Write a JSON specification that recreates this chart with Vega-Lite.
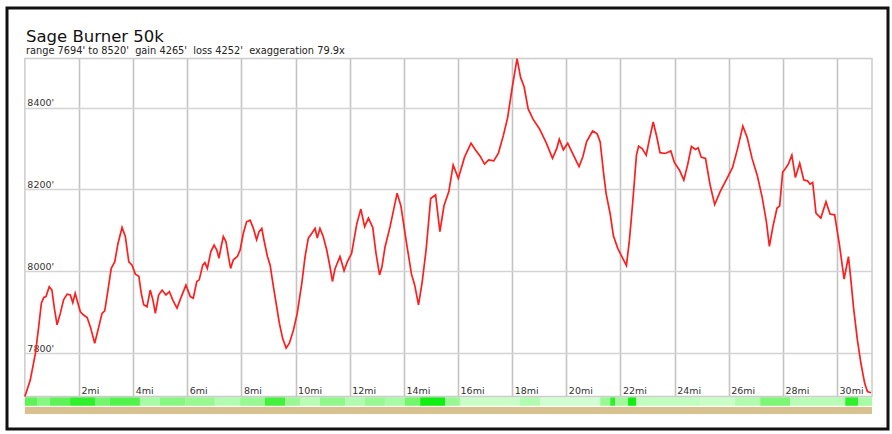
{
  "$schema": "https://vega.github.io/schema/vega-lite/v6.json",
  "width": 881,
  "height": 421,
  "autosize": {"type": "none"},
  "padding": {"left": 7, "top": 8, "right": 4, "bottom": 5},
  "background": "white",
  "title": {
    "text": "Sage Burner 50k",
    "subtitle": "range 7694' to 8520'\u00a0 gain 4265'\u00a0 loss 4252'\u00a0 exaggeration 79.9x",
    "anchor": "start",
    "frame": "group",
    "offset": -48,
    "dx": 19,
    "font": "DejaVu Sans",
    "fontSize": 16.5,
    "fontWeight": "normal",
    "color": "#111111",
    "subtitleFont": "DejaVu Sans",
    "subtitleFontSize": 9.8,
    "subtitleColor": "#222222",
    "subtitlePadding": 0.6
  },
  "config": {
    "view": {"stroke": "#111111", "strokeWidth": 3},
    "font": "DejaVu Sans"
  },
  "resolve": {"axis": {"x": "independent", "y": "independent"}},
  "datasets": {
    "profile": [
      {"mi": 0.00, "ft": 7694}, {"mi": 0.20, "ft": 7734}, {"mi": 0.39, "ft": 7799}, {"mi": 0.51, "ft": 7864},
      {"mi": 0.61, "ft": 7922}, {"mi": 0.70, "ft": 7936}, {"mi": 0.78, "ft": 7938}, {"mi": 0.90, "ft": 7962},
      {"mi": 1.00, "ft": 7954}, {"mi": 1.09, "ft": 7909}, {"mi": 1.19, "ft": 7869}, {"mi": 1.31, "ft": 7897},
      {"mi": 1.43, "ft": 7930}, {"mi": 1.56, "ft": 7944}, {"mi": 1.68, "ft": 7942}, {"mi": 1.77, "ft": 7923},
      {"mi": 1.86, "ft": 7946}, {"mi": 1.96, "ft": 7922}, {"mi": 2.05, "ft": 7901}, {"mi": 2.17, "ft": 7893},
      {"mi": 2.30, "ft": 7887}, {"mi": 2.42, "ft": 7864}, {"mi": 2.58, "ft": 7824}, {"mi": 2.73, "ft": 7864},
      {"mi": 2.85, "ft": 7897}, {"mi": 2.95, "ft": 7903}, {"mi": 3.07, "ft": 7954}, {"mi": 3.19, "ft": 8007},
      {"mi": 3.32, "ft": 8023}, {"mi": 3.44, "ft": 8068}, {"mi": 3.59, "ft": 8107}, {"mi": 3.71, "ft": 8085},
      {"mi": 3.84, "ft": 8023}, {"mi": 3.96, "ft": 8015}, {"mi": 4.08, "ft": 7993}, {"mi": 4.21, "ft": 7988},
      {"mi": 4.30, "ft": 7946}, {"mi": 4.39, "ft": 7918}, {"mi": 4.51, "ft": 7913}, {"mi": 4.63, "ft": 7954},
      {"mi": 4.73, "ft": 7930}, {"mi": 4.82, "ft": 7897}, {"mi": 4.94, "ft": 7942}, {"mi": 5.07, "ft": 7954},
      {"mi": 5.21, "ft": 7942}, {"mi": 5.34, "ft": 7950}, {"mi": 5.46, "ft": 7930}, {"mi": 5.62, "ft": 7910},
      {"mi": 5.78, "ft": 7938}, {"mi": 5.95, "ft": 7966}, {"mi": 6.11, "ft": 7938}, {"mi": 6.22, "ft": 7934},
      {"mi": 6.35, "ft": 7975}, {"mi": 6.44, "ft": 7979}, {"mi": 6.57, "ft": 8015}, {"mi": 6.65, "ft": 8021},
      {"mi": 6.74, "ft": 8007}, {"mi": 6.87, "ft": 8048}, {"mi": 6.99, "ft": 8064}, {"mi": 7.09, "ft": 8052},
      {"mi": 7.17, "ft": 8032}, {"mi": 7.25, "ft": 8060}, {"mi": 7.33, "ft": 8085}, {"mi": 7.43, "ft": 8072},
      {"mi": 7.52, "ft": 8036}, {"mi": 7.60, "ft": 8007}, {"mi": 7.70, "ft": 8028}, {"mi": 7.85, "ft": 8036},
      {"mi": 7.95, "ft": 8052}, {"mi": 8.07, "ft": 8093}, {"mi": 8.19, "ft": 8121}, {"mi": 8.32, "ft": 8125},
      {"mi": 8.44, "ft": 8105}, {"mi": 8.56, "ft": 8077}, {"mi": 8.65, "ft": 8097}, {"mi": 8.75, "ft": 8105},
      {"mi": 8.83, "ft": 8077}, {"mi": 8.96, "ft": 8036}, {"mi": 9.06, "ft": 8015}, {"mi": 9.16, "ft": 7971},
      {"mi": 9.28, "ft": 7922}, {"mi": 9.40, "ft": 7873}, {"mi": 9.52, "ft": 7836}, {"mi": 9.65, "ft": 7812},
      {"mi": 9.77, "ft": 7824}, {"mi": 9.92, "ft": 7856}, {"mi": 10.06, "ft": 7897}, {"mi": 10.23, "ft": 7971},
      {"mi": 10.35, "ft": 8036}, {"mi": 10.47, "ft": 8081}, {"mi": 10.60, "ft": 8093}, {"mi": 10.72, "ft": 8105},
      {"mi": 10.80, "ft": 8081}, {"mi": 10.90, "ft": 8105}, {"mi": 11.02, "ft": 8085}, {"mi": 11.15, "ft": 8052},
      {"mi": 11.27, "ft": 8011}, {"mi": 11.36, "ft": 7975}, {"mi": 11.46, "ft": 8007}, {"mi": 11.64, "ft": 8036},
      {"mi": 11.79, "ft": 8001}, {"mi": 11.91, "ft": 8023}, {"mi": 12.07, "ft": 8044}, {"mi": 12.26, "ft": 8116},
      {"mi": 12.41, "ft": 8152}, {"mi": 12.55, "ft": 8109}, {"mi": 12.69, "ft": 8130}, {"mi": 12.85, "ft": 8107},
      {"mi": 12.97, "ft": 8044}, {"mi": 13.10, "ft": 7991}, {"mi": 13.19, "ft": 8011}, {"mi": 13.30, "ft": 8058},
      {"mi": 13.49, "ft": 8109}, {"mi": 13.75, "ft": 8191}, {"mi": 13.89, "ft": 8160}, {"mi": 14.09, "ft": 8072},
      {"mi": 14.28, "ft": 7993}, {"mi": 14.40, "ft": 7966}, {"mi": 14.54, "ft": 7918}, {"mi": 14.67, "ft": 7971},
      {"mi": 14.82, "ft": 8052}, {"mi": 14.99, "ft": 8178}, {"mi": 15.17, "ft": 8187}, {"mi": 15.33, "ft": 8097},
      {"mi": 15.48, "ft": 8160}, {"mi": 15.66, "ft": 8195}, {"mi": 15.82, "ft": 8260}, {"mi": 16.01, "ft": 8227},
      {"mi": 16.24, "ft": 8279}, {"mi": 16.48, "ft": 8313}, {"mi": 16.64, "ft": 8297}, {"mi": 16.81, "ft": 8282},
      {"mi": 16.98, "ft": 8262}, {"mi": 17.13, "ft": 8272}, {"mi": 17.32, "ft": 8270}, {"mi": 17.49, "ft": 8289},
      {"mi": 17.67, "ft": 8331}, {"mi": 17.83, "ft": 8375}, {"mi": 18.01, "ft": 8453}, {"mi": 18.18, "ft": 8520},
      {"mi": 18.31, "ft": 8474}, {"mi": 18.44, "ft": 8451}, {"mi": 18.59, "ft": 8397}, {"mi": 18.77, "ft": 8372},
      {"mi": 19.01, "ft": 8348}, {"mi": 19.25, "ft": 8315}, {"mi": 19.49, "ft": 8276}, {"mi": 19.65, "ft": 8301},
      {"mi": 19.74, "ft": 8323}, {"mi": 19.89, "ft": 8297}, {"mi": 20.05, "ft": 8313}, {"mi": 20.24, "ft": 8287},
      {"mi": 20.47, "ft": 8256}, {"mi": 20.61, "ft": 8280}, {"mi": 20.75, "ft": 8317}, {"mi": 20.97, "ft": 8343},
      {"mi": 21.14, "ft": 8336}, {"mi": 21.25, "ft": 8316}, {"mi": 21.37, "ft": 8243}, {"mi": 21.47, "ft": 8190},
      {"mi": 21.62, "ft": 8140}, {"mi": 21.74, "ft": 8086}, {"mi": 21.90, "ft": 8056}, {"mi": 22.08, "ft": 8032},
      {"mi": 22.22, "ft": 8014}, {"mi": 22.33, "ft": 8076}, {"mi": 22.45, "ft": 8167}, {"mi": 22.59, "ft": 8284},
      {"mi": 22.67, "ft": 8306}, {"mi": 22.80, "ft": 8300}, {"mi": 22.95, "ft": 8284}, {"mi": 23.08, "ft": 8326},
      {"mi": 23.21, "ft": 8365}, {"mi": 23.34, "ft": 8329}, {"mi": 23.46, "ft": 8290}, {"mi": 23.65, "ft": 8288},
      {"mi": 23.86, "ft": 8294}, {"mi": 23.99, "ft": 8266}, {"mi": 24.18, "ft": 8247}, {"mi": 24.34, "ft": 8223},
      {"mi": 24.48, "ft": 8260}, {"mi": 24.62, "ft": 8305}, {"mi": 24.77, "ft": 8298}, {"mi": 24.87, "ft": 8302},
      {"mi": 24.98, "ft": 8279}, {"mi": 25.14, "ft": 8276}, {"mi": 25.31, "ft": 8211}, {"mi": 25.48, "ft": 8163},
      {"mi": 25.69, "ft": 8196}, {"mi": 25.94, "ft": 8228}, {"mi": 26.14, "ft": 8254}, {"mi": 26.33, "ft": 8301},
      {"mi": 26.52, "ft": 8355}, {"mi": 26.68, "ft": 8327}, {"mi": 26.86, "ft": 8276}, {"mi": 27.05, "ft": 8235},
      {"mi": 27.23, "ft": 8182}, {"mi": 27.39, "ft": 8121}, {"mi": 27.50, "ft": 8061}, {"mi": 27.63, "ft": 8109},
      {"mi": 27.78, "ft": 8154}, {"mi": 27.88, "ft": 8160}, {"mi": 27.99, "ft": 8242}, {"mi": 28.08, "ft": 8250},
      {"mi": 28.20, "ft": 8262}, {"mi": 28.33, "ft": 8284}, {"mi": 28.46, "ft": 8229}, {"mi": 28.62, "ft": 8264},
      {"mi": 28.77, "ft": 8223}, {"mi": 28.91, "ft": 8221}, {"mi": 29.00, "ft": 8213}, {"mi": 29.10, "ft": 8217},
      {"mi": 29.22, "ft": 8142}, {"mi": 29.40, "ft": 8130}, {"mi": 29.59, "ft": 8170}, {"mi": 29.74, "ft": 8140},
      {"mi": 29.91, "ft": 8138}, {"mi": 30.08, "ft": 8068}, {"mi": 30.26, "ft": 7981}, {"mi": 30.42, "ft": 8036},
      {"mi": 30.51, "ft": 7979}, {"mi": 30.61, "ft": 7910}, {"mi": 30.75, "ft": 7832}, {"mi": 30.88, "ft": 7775},
      {"mi": 31.02, "ft": 7726}, {"mi": 31.12, "ft": 7706}, {"mi": 31.25, "ft": 7703}
    ],
    "grade": [
      {"from": 0.00, "to": 0.45, "shade": 0.8}, {"from": 0.45, "to": 0.93, "shade": 0.6},
      {"from": 0.93, "to": 1.67, "shade": 0.8}, {"from": 1.67, "to": 2.59, "shade": 0.95},
      {"from": 2.59, "to": 3.14, "shade": 0.7}, {"from": 3.14, "to": 4.25, "shade": 0.85},
      {"from": 4.25, "to": 4.99, "shade": 0.4}, {"from": 4.99, "to": 5.92, "shade": 0.6},
      {"from": 5.92, "to": 7.02, "shade": 0.5}, {"from": 7.02, "to": 7.95, "shade": 0.35},
      {"from": 7.95, "to": 8.87, "shade": 0.5}, {"from": 8.87, "to": 9.61, "shade": 0.9},
      {"from": 9.61, "to": 10.16, "shade": 0.5}, {"from": 10.16, "to": 10.9, "shade": 0.3},
      {"from": 10.9, "to": 11.83, "shade": 0.55}, {"from": 11.83, "to": 12.56, "shade": 0.35},
      {"from": 12.56, "to": 13.3, "shade": 0.5}, {"from": 13.3, "to": 14.04, "shade": 0.4},
      {"from": 14.04, "to": 14.6, "shade": 0.7}, {"from": 14.6, "to": 15.52, "shade": 1.0},
      {"from": 15.52, "to": 16.07, "shade": 0.5}, {"from": 16.07, "to": 18.29, "shade": 0.2},
      {"from": 18.29, "to": 19.03, "shade": 0.35}, {"from": 19.03, "to": 21.25, "shade": 0.15},
      {"from": 21.25, "to": 21.62, "shade": 0.5}, {"from": 21.62, "to": 21.8, "shade": 0.95},
      {"from": 21.8, "to": 22.28, "shade": 0.45}, {"from": 22.28, "to": 22.58, "shade": 1.0},
      {"from": 22.58, "to": 24.94, "shade": 0.25}, {"from": 24.94, "to": 26.23, "shade": 0.2},
      {"from": 26.23, "to": 27.16, "shade": 0.35}, {"from": 27.16, "to": 28.27, "shade": 0.65},
      {"from": 28.27, "to": 30.3, "shade": 0.3}, {"from": 30.3, "to": 30.78, "shade": 0.95},
      {"from": 30.78, "to": 31.29, "shade": 0.4}
    ],
    "surface": [
      {"from": 0, "to": 31.29}
    ]
  },
  "layer": [
    {
      "data": {"name": "profile"},
      "mark": {"type": "line", "color": "#ff1e1e", "strokeWidth": 1.7, "opacity": 0},
      "encoding": {
        "x": {
          "field": "mi",
          "type": "quantitative",
          "scale": {"domain": [0, 31.29], "range": [17.86, 865], "nice": false, "zero": false},
          "axis": {
            "orient": "top",
            "offset": -388.4,
            "values": [2, 4, 6, 8, 10, 12, 14, 16, 18, 20, 22, 24, 26, 28, 30],
            "labelExpr": "datum.value + 'mi'",
            "domain": false,
            "ticks": false,
            "grid": true,
            "gridColor": "#c4c4c4",
            "gridWidth": 1.6,
            "labelAlign": "left",
            "labelBaseline": "alphabetic",
            "labelPadding": 2.5,
            "labelOffset": 2,
            "labelFont": "DejaVu Sans",
            "labelFontSize": 9.5,
            "labelColor": "#333333",
            "labelFlush": false,
            "labelOverlap": false,
            "title": null
          }
        },
        "y": {
          "field": "ft",
          "type": "quantitative",
          "scale": {"domain": [7694, 8520], "range": [388.4, 50.6], "nice": false, "zero": false},
          "axis": {
            "orient": "left",
            "offset": -17.86,
            "values": [7800, 8000, 8200, 8400],
            "labelExpr": "datum.value + \"'\"",
            "domain": false,
            "ticks": false,
            "grid": true,
            "gridColor": "#d4d4d4",
            "gridWidth": 1.5,
            "labelAlign": "left",
            "labelBaseline": "alphabetic",
            "labelPadding": -2,
            "labelOffset": -2,
            "labelFont": "DejaVu Sans",
            "labelFontSize": 9.5,
            "labelColor": "#333333",
            "labelFlush": false,
            "labelOverlap": false,
            "title": null
          }
        }
      }
    },
    {
      "data": {"name": "grade"},
      "mark": {"type": "rect"},
      "encoding": {
        "x": {"field": "from", "type": "quantitative", "axis": null},
        "x2": {"field": "to"},
        "y": {"datum": 7692, "axis": null},
        "y2": {"datum": 7671},
        "color": {"field": "shade", "type": "quantitative", "scale": {"domain": [0, 1], "range": ["#e8ffe8", "#11ee11"]}, "legend": null}
      }
    },
    {
      "data": {"name": "surface"},
      "mark": {"type": "rect", "color": "#d8c18e"},
      "encoding": {
        "x": {"field": "from", "type": "quantitative", "axis": null},
        "x2": {"field": "to"},
        "y": {"datum": 7668, "axis": null},
        "y2": {"datum": 7651}
      }
    },
    {
      "data": {"values": [{}]},
      "mark": {"type": "rect", "fillOpacity": 0, "stroke": "#cccccc", "strokeWidth": 1.5},
      "encoding": {
        "x": {"datum": 0, "axis": null},
        "x2": {"datum": 31.29},
        "y": {"datum": 7694, "axis": null},
        "y2": {"datum": 8520}
      }
    },
    {
      "data": {"name": "profile"},
      "mark": {"type": "line", "color": "#ff1e1e", "strokeWidth": 1.7},
      "encoding": {
        "x": {"field": "mi", "type": "quantitative", "axis": null},
        "y": {"field": "ft", "type": "quantitative", "axis": null}
      }
    }
  ]
}
